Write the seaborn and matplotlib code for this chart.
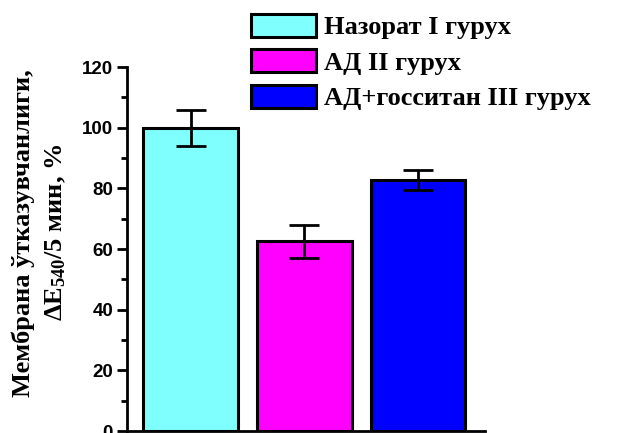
import matplotlib
matplotlib.use("Agg")
import matplotlib.pyplot as plt
import seaborn as sns
import pandas as pd
from matplotlib.ticker import MultipleLocator

groups = ["Назорат I гурух", "АД II гурух", "АД+госситан III гурух"]
values = [100.0, 62.5, 82.8]
errors = [5.9, 5.4, 3.3]
colors = ["#80FFFF", "#FF00FF", "#0000FF"]
ylabel = "Мембрана ўтказувчанлиги,\n$\\mathbf{\\Delta E_{540}}$/5 мин, %"

sns.set_theme(style="ticks")
plt.rcParams["font.family"] = ["Liberation Sans", "DejaVu Sans"]
plt.rcParams["text.color"] = "black"
plt.rcParams["axes.labelcolor"] = "black"
plt.rcParams["xtick.color"] = "black"
plt.rcParams["ytick.color"] = "black"
plt.rcParams["axes.edgecolor"] = "black"
plt.rcParams["mathtext.fontset"] = "custom"
plt.rcParams["mathtext.rm"] = "Liberation Serif"
plt.rcParams["mathtext.bf"] = "Liberation Serif:bold"
plt.rcParams["mathtext.it"] = "Liberation Serif:italic:bold"

df = pd.DataFrame({"group": groups, "value": values})

fig = plt.figure(figsize=(6.19, 4.33), dpi=100)
ax = fig.add_axes([0.205, 0.0046, 0.579, 0.8406])

sns.barplot(data=df, x="group", y="value", hue="group", palette=colors,
            order=groups, hue_order=groups, width=0.83, dodge=False, saturation=1,
            edgecolor="black", linewidth=2.2, legend=False, ax=ax, errorbar=None)

ax.errorbar(range(len(groups)), values, yerr=errors, fmt="none",
            ecolor="black", elinewidth=2, capsize=11, capthick=2, zorder=5)

ax.set_xlim(-0.56, 2.59)
ax.set_ylim(0, 120)
ax.yaxis.set_major_locator(MultipleLocator(20))
ax.yaxis.set_minor_locator(MultipleLocator(10))
ax.tick_params(axis="y", which="major", length=7, width=2, direction="out", labelsize=13.5, pad=3)
ax.tick_params(axis="y", which="minor", length=4, width=2, direction="out")
ax.tick_params(axis="x", bottom=False, labelbottom=False)
for lbl in ax.get_yticklabels():
    lbl.set_fontweight("bold")
    lbl.set_family(["Liberation Sans"])
ax.set_xlabel("")
ax.set_ylabel(ylabel, family=["Liberation Serif"], fontweight="bold", fontsize=19,
              linespacing=1.45)
for s in ["top", "right"]:
    ax.spines[s].set_visible(False)
for s in ["left", "bottom"]:
    ax.spines[s].set_linewidth(2)
ax.yaxis.set_label_coords(-0.165, 0.545)

handles = ax.patches[:3]
leg = fig.legend(handles, groups, loc="upper left", bbox_to_anchor=(0.405, 0.968),
                 frameon=False, prop={"family": "Liberation Serif", "weight": "bold", "size": 19},
                 handlelength=2.46, handleheight=0.95, labelspacing=0.38, handletextpad=0.3,
                 borderpad=0, borderaxespad=0)

fig.savefig("out.png", dpi=100)
